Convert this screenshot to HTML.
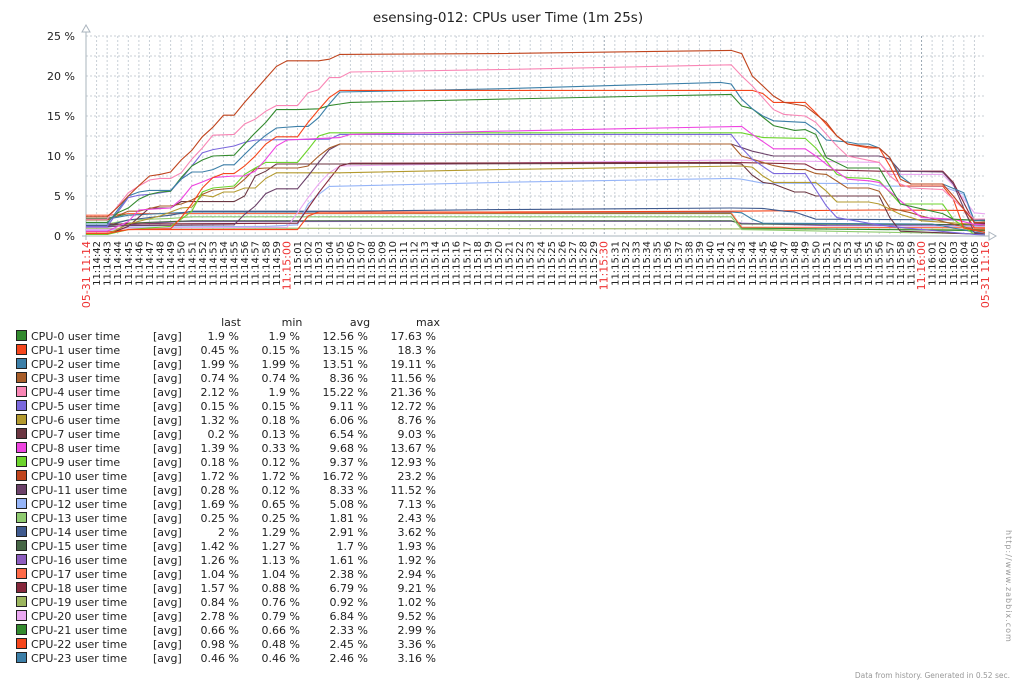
<!DOCTYPE html>
<html><head><meta charset="utf-8"><style>
html,body{margin:0;padding:0;background:#fff;}
svg{display:block;font-family:"DejaVu Sans","Liberation Sans",sans-serif;}
</style></head><body>
<svg id="chart" width="1016" height="684" viewBox="0 0 1016 684" xmlns="http://www.w3.org/2000/svg">
<rect width="1016" height="684" fill="#fff"/>
<text x="508" y="22" text-anchor="middle" font-size="13.5" fill="#222">esensing-012: CPUs user Time (1m 25s)</text>
<g id="grid"></g><g id="axes"></g><g id="series"></g><g id="xlabels"></g><g id="ylabels"></g><g id="legend"></g>
<text x="1010" y="678" text-anchor="end" font-size="7.5" fill="#999">Data from history. Generated in 0.52 sec.</text>
<text transform="translate(1006,530) rotate(90)" font-size="8" fill="#999" letter-spacing="1">http://www.zabbix.com</text>
</svg>
<script>
const names = ["CPU-0","CPU-1","CPU-2","CPU-3","CPU-4","CPU-5","CPU-6","CPU-7","CPU-8","CPU-9","CPU-10","CPU-11","CPU-12","CPU-13","CPU-14","CPU-15","CPU-16","CPU-17","CPU-18","CPU-19","CPU-20","CPU-21","CPU-22","CPU-23"];
const colors = ["#338A2E","#F5461C","#3C7FA8","#A85D28","#F986B5","#7B68DD","#B39A2E","#6B3641","#EE44E0","#6DD42D","#C0441D","#6B4169","#96B5F8","#8FCB70","#3F5A8E","#466645","#8D5DBF","#FF6A48","#86273B","#9BB55E","#EBA8F2","#338A2E","#F5461C","#3C7FA8"];
const lastVals = ["1.9 %","0.45 %","1.99 %","0.74 %","2.12 %","0.15 %","1.32 %","0.2 %","1.39 %","0.18 %","1.72 %","0.28 %","1.69 %","0.25 %","2 %","1.42 %","1.26 %","1.04 %","1.57 %","0.84 %","2.78 %","0.66 %","0.98 %","0.46 %"];
const minVals = ["1.9 %","0.15 %","1.99 %","0.74 %","1.9 %","0.15 %","0.18 %","0.13 %","0.33 %","0.12 %","1.72 %","0.12 %","0.65 %","0.25 %","1.29 %","1.27 %","1.13 %","1.04 %","0.88 %","0.76 %","0.79 %","0.66 %","0.48 %","0.46 %"];
const avgVals = ["12.56 %","13.15 %","13.51 %","8.36 %","15.22 %","9.11 %","6.06 %","6.54 %","9.68 %","9.37 %","16.72 %","8.33 %","5.08 %","1.81 %","2.91 %","1.7 %","1.61 %","2.38 %","6.79 %","0.92 %","6.84 %","2.33 %","2.45 %","2.46 %"];
const maxVals = ["17.63 %","18.3 %","19.11 %","11.56 %","21.36 %","12.72 %","8.76 %","9.03 %","13.67 %","12.93 %","23.2 %","11.52 %","7.13 %","2.43 %","3.62 %","1.93 %","1.92 %","2.94 %","9.21 %","1.02 %","9.52 %","2.99 %","3.36 %","3.16 %"];
const yTicks = [0,5,10,15,20,25];
// series: [seconds since 11:14:41, percent]
const cpu0 = [[0,1.7],[2,1.7],[3,2.9],[4,3.5],[5,4.6],[6,5.2],[7,5.5],[8,5.6],[9,7.3],[10,8.75],[11,9.5],[12,10],[14,10.1],[15,11.5],[16,12.9],[17,14.2],[18,15.8],[20,15.8],[22,15.9],[23,16.3],[24,16.5],[25,16.7],[39,17.1],[61,17.7],[62,16.25],[63,15.9],[65,13.8],[67,13.2],[68,13.3],[69,12.7],[70,9.8],[72,8.5],[75,8.5],[76,6.25],[77,4],[81,2.8],[82,2.1],[85,1.9]];
const cpu1 = [[0,0.3],[2,0.3],[4,0.8],[8,0.9],[9,2.3],[10,4],[11,6],[12,7.3],[13,7.8],[14,7.8],[15,8.75],[16,10],[17,11.5],[18,12.4],[20,12.4],[21,14.2],[22,15.8],[23,17.3],[24,18.2],[63,18.2],[64,17.8],[65,16.7],[68,16.7],[69,15.4],[71,12.5],[72,11.5],[74,11],[75,11],[76,8.75],[77,6.25],[81,6.25],[82,4.6],[83,1],[85,0.45]];
const cpu2 = [[0,1.5],[2,1.5],[4,5],[5,5.5],[6,5.7],[8,5.7],[9,7.1],[10,8],[11,8],[12,8.3],[13,8.9],[14,8.9],[15,10.2],[16,11.5],[17,12.6],[18,13.5],[20,13.7],[21,13.7],[22,14.8],[23,16.5],[24,18],[39,18.4],[60,19.2],[61,19],[62,17.1],[63,15.9],[64,15],[65,14.4],[68,14.2],[69,13.3],[70,12],[72,11.75],[73,11.5],[74,11.5],[75,11],[76,9.8],[77,7.5],[78,6.5],[81,6.5],[83,5.4],[84,1.9],[85,1.99]];
const cpu3 = [[0,2],[2,2],[4,3.1],[5,3.1],[7,3.75],[8,3.75],[9,4],[10,4.5],[11,5.2],[12,5.75],[14,6],[15,7.1],[16,8.4],[17,8.5],[20,8.5],[21,8.75],[22,10],[23,11],[24,11.5],[61,11.5],[62,10],[63,9.6],[65,8.8],[67,8.3],[68,8.3],[69,7.8],[70,7.7],[72,6],[74,6],[75,5.6],[76,3.5],[78,2.9],[79,2.5],[84,0.8],[85,0.74]];
const cpu4 = [[0,2.1],[2,2.1],[4,5.4],[5,6.25],[6,7],[7,7.2],[8,7.2],[9,7.9],[10,9.6],[11,11],[12,12.6],[14,12.7],[15,14],[16,14.6],[17,15.6],[18,16.3],[20,16.3],[21,17.9],[22,18.3],[23,19.8],[24,19.8],[25,20.5],[39,20.8],[61,21.4],[62,20],[63,18.75],[65,15.8],[66,15.2],[68,15],[69,14.2],[71,11.25],[72,10],[75,9.2],[76,7.5],[77,6.5],[78,6],[81,5.8],[82,4.6],[84,2.1],[85,2.12]];
const cpu5 = [[0,1.2],[2,1.2],[4,4.8],[5,5.1],[6,5.2],[8,5.6],[9,7.1],[10,8.75],[11,10.4],[12,10.8],[14,11.25],[15,11.7],[16,12],[23,12.1],[24,12.7],[61,12.7],[62,11],[63,9.6],[65,7.8],[68,7.8],[69,5.8],[70,3.75],[71,2.3],[74,1.6],[76,1.2],[84,0.2],[85,0.15]];
const cpu6 = [[0,0.2],[2,0.2],[4,1.5],[7,2.5],[9,3.5],[10,3.6],[11,5.1],[12,4.9],[13,5.5],[14,5.5],[15,6],[16,6],[17,7.2],[18,7.9],[24,7.9],[39,8.3],[62,8.75],[63,8.6],[64,7.5],[65,6.7],[69,6.7],[70,5.6],[71,4.25],[74,4.25],[75,4],[77,2.7],[79,1.9],[84,1.46],[85,1.32]];
const cpu7 = [[0,0.2],[2,0.2],[4,1.2],[6,3.5],[8,3.5],[9,4.3],[14,4.3],[15,5],[16,7.5],[17,8.1],[18,9],[24,9],[61,9.1],[62,9.0],[63,7.6],[64,6.7],[65,6.5],[67,5.5],[68,5.5],[69,5],[75,5],[76,2.3],[77,0.6],[85,0.2]];
const cpu8 = [[0,0.6],[2,0.6],[4,1.8],[5,3.25],[8,3.5],[9,4.6],[10,6.25],[11,6.75],[12,7.3],[14,7.5],[15,7.5],[16,8.1],[17,9.6],[18,11.25],[19,12],[24,12.3],[25,12.7],[39,13.1],[62,13.7],[63,12.7],[65,10.9],[68,10.9],[69,10],[70,8.96],[72,7.1],[74,6.9],[75,6.7],[77,4.4],[79,2.3],[82,2.1],[84,1.46],[85,1.39]];
const cpu9 = [[0,0.2],[2,0.2],[4,0.8],[8,1.2],[9,2.1],[10,3.1],[11,5.5],[12,6],[14,6.25],[15,7.7],[16,8.5],[17,9.2],[20,9.2],[21,10.8],[22,12.5],[23,12.9],[62,12.9],[64,12.3],[68,12.2],[69,11],[71,7.7],[72,7.3],[74,7.2],[75,6.9],[77,4],[81,4],[82,2.1],[84,0.2],[85,0.18]];
const cpu10 = [[0,2.4],[2,2.4],[3,3.6],[4,5],[5,6.3],[6,7.5],[7,7.7],[8,8],[9,9.5],[10,10.7],[11,12.4],[12,13.6],[13,15.1],[14,15.1],[15,16.7],[16,18.2],[17,19.7],[18,21.2],[19,21.9],[22,21.9],[23,22.1],[24,22.7],[39,22.8],[61,23.2],[62,22.8],[63,20],[65,17.5],[66,16.7],[68,16.25],[70,14.2],[71,12.5],[72,11.5],[75,11],[76,9.8],[77,7.1],[78,6.5],[81,6.5],[82,5],[84,1.7],[85,1.72]];
const cpu11 = [[0,1.2],[2,1.2],[4,1.3],[14,1.4],[15,2.7],[16,3.75],[17,5.3],[18,5.9],[20,5.9],[21,7.5],[22,9.2],[23,10.8],[24,11.5],[61,11.5],[63,10.6],[65,10],[75,10],[76,9.6],[77,8.1],[81,8],[82,6.5],[84,0.4],[85,0.28]];
const cpu12 = [[0,0.65],[2,0.65],[4,1.1],[17,1.2],[20,1.4],[21,4],[22,5.2],[23,6.2],[39,6.7],[61,7.2],[62,7.1],[64,6.6],[74,6.55],[75,6.25],[81,6.2],[83,5.2],[84,1.7],[85,1.69]];
const cpu13 = [[0,1.5],[2,1.5],[4,2.0],[8,2.2],[10,2.4],[61,2.4],[62,0.8],[85,0.25]];
const cpu14 = [[0,1.3],[2,1.3],[4,2.0],[8,2.6],[10,3.1],[24,3.1],[39,3.3],[61,3.5],[64,3.45],[66,3.1],[67,3.0],[69,2.1],[85,2.0]];
const cpu15 = [[0,1.3],[2,1.3],[4,1.6],[10,1.9],[61,1.9],[62,1.5],[85,1.42]];
const cpu16 = [[0,1.1],[2,1.1],[4,1.4],[9,1.8],[61,1.85],[62,1.6],[70,1.3],[85,1.26]];
const cpu17 = [[0,2.6],[2,2.6],[4,2.8],[61,2.9],[62,1.1],[85,1.04]];
const cpu18 = [[0,1.5],[2,1.5],[4,1.5],[20,1.6],[21,3.5],[22,5.4],[23,7.1],[24,8.75],[25,9.1],[61,9.2],[68,9.0],[69,8.3],[75,8.1],[81,8.1],[82,6.7],[84,1.6],[85,1.57]];
const cpu19 = [[0,0.9],[2,0.9],[4,1.0],[85,0.84]];
const cpu20 = [[0,0.8],[2,0.8],[4,1.0],[19,1.1],[20,2.9],[21,4.8],[22,6.5],[23,7.9],[24,8.75],[39,9.1],[61,9.5],[75,9.2],[76,7.7],[81,7.7],[82,6.3],[84,2.9],[85,2.78]];
const cpu21 = [[0,2.2],[2,2.2],[4,2.8],[61,2.8],[62,1.0],[85,0.66]];
const cpu22 = [[0,0.5],[2,0.5],[4,0.8],[20,0.8],[21,2.5],[22,3.0],[39,3.0],[61,3.1],[75,3.25],[83,3.2],[84,1.0],[85,0.98]];
const cpu23 = [[0,2.1],[2,2.1],[4,2.6],[10,3.0],[61,3.0],[62,2.9],[63,2.1],[64,1.6],[80,1.5],[84,0.5],[85,0.46]];
const seriesData = [cpu0,cpu1,cpu2,cpu3,cpu4,cpu5,cpu6,cpu7,cpu8,cpu9,cpu10,cpu11,cpu12,cpu13,cpu14,cpu15,cpu16,cpu17,cpu18,cpu19,cpu20,cpu21,cpu22,cpu23];
const drawOrder = [19,16,15,13,21,17,23,22,14,12,20,18,7,6,11,3,9,5,8,0,2,1,4,10];

const NS = "http://www.w3.org/2000/svg";
const X0 = 86, X1 = 985, Y0 = 236, Y1 = 36, TMAX = 85, VMAX = 25;
function xs(t){ return X0 + (X1 - X0) * t / TMAX; }
function ys(v){ return Y0 - (Y0 - Y1) * v / VMAX; }
function mk(tag, attrs, parent){ const e = document.createElementNS(NS, tag); for (const k in attrs) e.setAttribute(k, attrs[k]); parent.appendChild(e); return e; }
const grid = document.getElementById('grid'), axes = document.getElementById('axes'), ser = document.getElementById('series'), xl = document.getElementById('xlabels'), yl = document.getElementById('ylabels'), lg = document.getElementById('legend');

function fmt(t){ const s = 14*60+41+t; const m = Math.floor(s/60), sec = s%60; return "11:" + String(m).padStart(2,'0') + ":" + String(sec).padStart(2,'0'); }
for (let t = 1; t < TMAX; t++) {
  const x = xs(t); const major = (fmt(t).endsWith(":00") || fmt(t).endsWith(":30"));
  const gl = mk('line', {x1:x, x2:x, y1:Y1, y2:Y0, stroke: major ? '#9aa8b4' : '#c8cfd6', 'stroke-dasharray':'2,2', 'stroke-width':1}, grid);
  
  
  const tk = mk('text', {transform:`translate(${x+3.5},241) rotate(-90)`, 'text-anchor':'end', 'font-size':major ? 11 : 10, fill: major ? '#e33' : '#222'}, xl);
  tk.textContent = fmt(t);
  
  
}
[[0,"05-31 11:14"],[TMAX,"05-31 11:16"]].forEach(([t,s]) => {
  const tk = mk('text', {transform:`translate(${xs(t)+4},241) rotate(-90)`, 'text-anchor':'end', 'font-size':11, fill:'#e33'}, xl);
  tk.textContent = s;
  
  
});
for (let v = 2.5; v <= 25; v += 2.5) {
  const hl = mk('line', {x1:X0, x2:X1, y1:ys(v), y2:ys(v), stroke:'#c8cfd6', 'stroke-dasharray':'2,2'}, grid);
  
  
}
yTicks.forEach(v => {
  const tx = mk('text', {x:75, y:ys(v)+4, 'text-anchor':'end', 'font-size':11, fill:'#222'}, yl);
  tx.textContent = v + " %";
  
  
});
const ya = mk('line', {x1:X0, x2:X0, y1:Y0+4, y2:29, stroke:'#aab4be'}, axes);


const xa = mk('line', {x1:X0-4, x2:992, y1:Y0, y2:Y0, stroke:'#aab4be'}, axes);


const ay = mk('path', {d:`M${X0-4},32 L${X0},25 L${X0+4},32 Z`, fill:'#fff', stroke:'#aab4be'}, axes);


const ax = mk('path', {d:`M989,${Y0-4} L996,${Y0} L989,${Y0+4} Z`, fill:'#fff', stroke:'#aab4be'}, axes);


drawOrder.forEach(i => {
  const pts = seriesData[i].map(p => xs(p[0]).toFixed(1) + "," + ys(p[1]).toFixed(1)).join(" ");
  const pl = mk('polyline', {points:pts, fill:'none', stroke:colors[i], 'stroke-width':1.1}, ser);
  
  
});
[["last",239],["min",300],["avg",368],["max",436]].forEach(([h,x]) => {
  const t = mk('text', {x:x-8, y:326, 'font-size':11, fill:'#222', 'text-anchor':'middle'}, lg);
  t.textContent = h;
  
  
});
names.forEach((n, i) => {
  const y = 336 + i * 14;
  const g = mk('g', {}, lg);
  
  
  mk('rect', {x:16.5, y:y-5.5, width:10, height:10, fill:colors[i], stroke:'#222', 'stroke-width':1}, g);
  const a = mk('text', {x:31, y:y+4, 'font-size':11, fill:'#222'}, g); a.textContent = n + " user time";
  const b = mk('text', {x:153, y:y+4, 'font-size':11, fill:'#222'}, g); b.textContent = "[avg]";
  const c = mk('text', {x:239, y:y+4, 'font-size':11, fill:'#222', 'text-anchor':'end'}, g); c.textContent = lastVals[i];
  const d = mk('text', {x:300, y:y+4, 'font-size':11, fill:'#222', 'text-anchor':'end'}, g); d.textContent = minVals[i];
  const e = mk('text', {x:368, y:y+4, 'font-size':11, fill:'#222', 'text-anchor':'end'}, g); e.textContent = avgVals[i];
  const f = mk('text', {x:436, y:y+4, 'font-size':11, fill:'#222', 'text-anchor':'end'}, g); f.textContent = maxVals[i];
});
</script>
</body></html>
